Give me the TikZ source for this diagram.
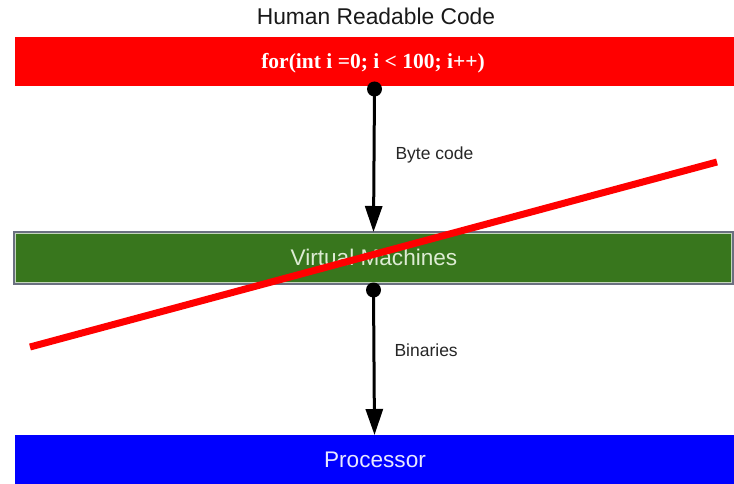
\documentclass[tikz,border=0pt]{standalone}
\usepackage{fontspec}
\setmainfont{Liberation Sans}
\newfontfamily\codefont{Liberation Serif}
\usetikzlibrary{arrows.meta}
\definecolor{vmgreen}{HTML}{38761D}
\definecolor{vmtext}{HTML}{DDEBD3}
\definecolor{proctext}{HTML}{E8E8FF}
\definecolor{edgegray}{HTML}{6A7080}
\begin{document}
\begin{tikzpicture}[x=1pt,y=-1pt,
  bar/.style={minimum width=719pt, minimum height=49pt, inner sep=0pt, outer sep=0pt},
  bigtext/.style={font=\fontsize{22.6}{26}\selectfont},
  smalltext/.style={font=\fontsize{17.5}{20}\selectfont, text=black!85},
  dot/.style={circle, fill=black, minimum size=15pt, inner sep=0pt},
  conn/.style={line width=3pt, -{Triangle[length=26pt,width=17pt]}},
  cross/.style={line width=7pt, red}
]
\useasboundingbox (0,0) rectangle (734,484);
% title
\node[font=\fontsize{22.8}{26}\selectfont, text=black!90] (title) at (376,16) {Human Readable Code};
% bars
\node[bar, fill=red, anchor=north west] (code) at (15,37.5) {};
\node[font=\codefont\bfseries\fontsize{21.5}{24}\selectfont, text=white] (codetxt) at (373,63) {for(int i =0; i < 100; i++)};
\node[bar, fill=vmgreen, draw=edgegray, line width=1.2pt, minimum height=52pt, anchor=north west] (vm) at (14,232) {};
\draw[white!70!vmgreen, line width=0.8pt] ([shift={(1.5,1.5)}]vm.north west) rectangle ([shift={(-1.5,-1.5)}]vm.south east);
\node[bigtext, text=vmtext] (vmtxt) at (374,257) {Virtual Machines};
\node[bar, fill=blue, anchor=north west] (proc) at (15,435) {};
\node[bigtext, text=proctext] (proctxt) at (375,460) {Processor};
% connectors
\node[dot] (d1) at ([yshift=-2.5pt]code.south) {};
\node[dot] (d2) at ([yshift=-6pt]vm.south) {};
\draw[conn] (d1.center) -- (vm.north);
\draw[conn] (d2.center) -- (proc.north);
\node[smalltext, anchor=west] (bc) at (392,155) {Byte code};
\node[smalltext, anchor=west] (bin) at (391,350) {Binaries};
% cross-out line
\coordinate (s1) at (30,347);
\coordinate (s2) at (717,162);
\draw[cross] (s1) -- (s2);
\end{tikzpicture}
\end{document}
